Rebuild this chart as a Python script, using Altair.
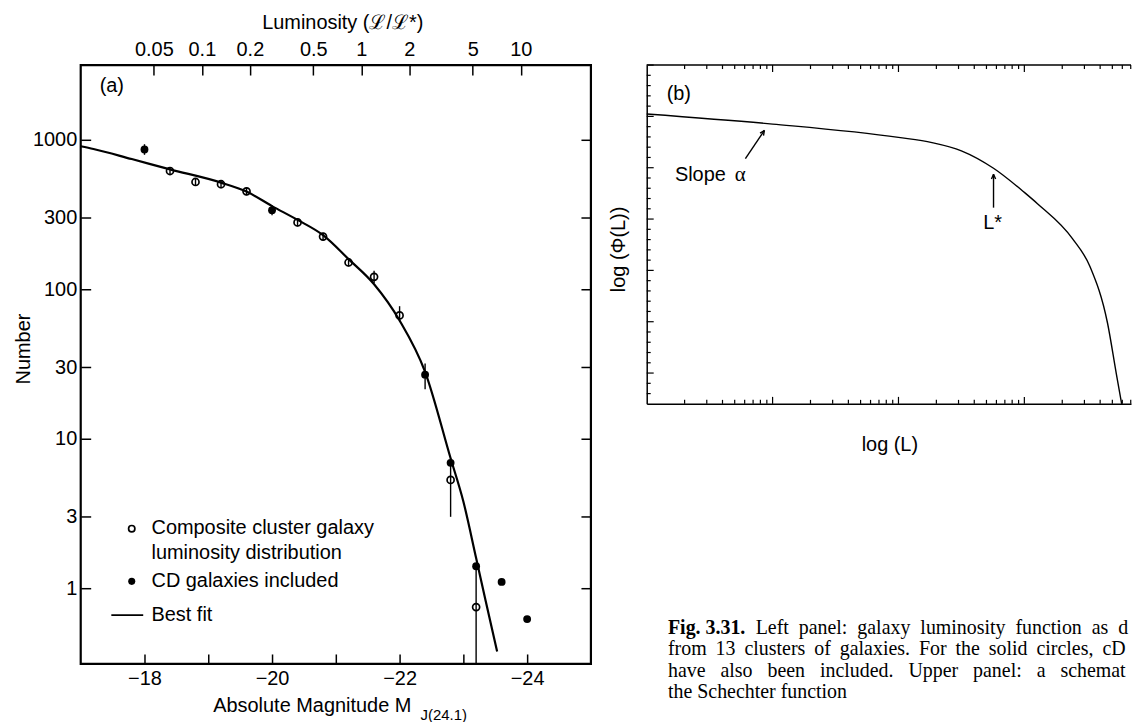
import altair as alt
import pandas as pd

# ---------------- panel (a): composite cluster galaxy luminosity function ----------------
open_M = [-18.4, -18.8, -19.2, -19.6, -20.4, -20.8, -21.2, -21.6, -22.0, -22.8, -23.2]
open_N = [618, 522, 504, 452, 280, 225, 151, 121, 66.8, 5.30, 0.747]

filled_M = [-18.0, -20.0, -22.4, -22.8, -23.2, -23.6, -24.0]
filled_N = [861, 338, 26.8, 6.89, 1.40, 1.10, 0.621]

err_M = [-18.0, -18.4, -18.8, -19.2, -19.6, -20.0, -20.4, -20.8, -21.2, -21.6, -22.0, -22.4, -22.8, -23.2]
err_lo = [793, 581, 491, 474, 425, 313, 263, 212, 142, 110, 61, 21.4, 3.0, 0.311]
err_hi = [934, 657, 555, 536, 480, 365, 298, 239, 161, 133, 77, 31.8, 7.4, 1.40]

fit_M = [-17.0, -17.2, -17.8, -18.4, -19.2, -19.6, -20.0, -20.4, -20.8, -21.2, -21.6,
         -22.0, -22.4, -22.8, -23.0, -23.2, -23.35, -23.53]
fit_N = [905, 868, 743, 634, 517, 450, 360, 291, 230, 159, 108,
         61.8, 28.0, 7.39, 3.80, 1.59, 0.819, 0.376]

legend_labels = ["Composite cluster galaxy", "luminosity distribution", "CD galaxies included", "Best fit"]
legend_label_M = [-18.11, -18.11, -18.11, -18.11]
legend_label_N = [2.51, 1.72, 1.11, 0.66]
legend_open_M, legend_open_N = [-17.8], [2.50]
legend_filled_M, legend_filled_N = [-17.8], [1.11]
legend_line_M, legend_line_N = [-17.48, -17.98], [0.66, 0.66]

mag_ticks = [-18, -19, -20, -21, -22, -23, -24]
num_ticks = [1, 3, 10, 30, 100, 300, 1000]
lum_ticks = [0.05, 0.1, 0.2, 0.5, 1, 2, 5, 10]

# ---------------- panel (b): schematic Schechter function ----------------
sch_L = [1, 10, 100, 184.5, 316, 569, 1000, 1271, 2410, 3327, 4581, 5383, 5929]
sch_y = [5.047, 4.85, 4.59, 4.49, 4.33, 3.99, 3.52, 3.30, 2.62, 2.07, 0.97, -0.02, -0.6]

rp_x_major = [10, 100, 1000]
rp_x_minor = [2, 3, 4, 5, 6, 7, 8, 9, 20, 30, 40, 50, 60, 70, 80, 90,
              200, 300, 400, 500, 600, 700, 800, 900, 2000, 3000, 4000, 5000, 6000, 7000]
rp_y_major = [0, 1, 2, 3, 4, 5, 6]
rp_y_minor = [-0.4, -0.2, 0.2, 0.4, 0.6, 0.8, 1.2, 1.4, 1.6, 1.8, 2.2, 2.4, 2.6, 2.8,
              3.2, 3.4, 3.6, 3.8, 4.2, 4.4, 4.6, 4.8, 5.2, 5.4, 5.6, 5.8]

slope_arrow = {"L": [6.08], "y": [4.179], "L2": [8.61], "y2": [4.726]}
lstar_arrow = {"L": [569], "y": [3.222], "L2": [569], "y2": [3.871]}

caption_first_bold = "Fig. 3.31."
caption_first_rest = ["Left", "panel:", "galaxy", "luminosity", "function", "as", "derived"]
caption_line2 = ["from", "13", "clusters", "of", "galaxies.", "For", "the", "solid", "circles,", "cD", "galaxies"]
caption_line3 = ["have", "also", "been", "included.", "Upper", "panel:", "a", "schematic", "of"]
caption_line4 = "the Schechter function"

SANS = "Liberation Sans"
SERIF = "Liberation Serif"
W1, H1 = 512, 601
W2, H2 = 486, 340


def label(text, x, y, size=20, font=SANS, align="left", angle=0, weight="normal", limit=0, baseline="middle"):
    kw = dict(font=font, fontSize=size, align=align, baseline=baseline, color="black", fontWeight=weight)
    if angle:
        kw["angle"] = angle
    if limit:
        kw["limit"] = limit
        kw["ellipsis"] = "\u200b"
    return alt.Chart(pd.DataFrame({"t": [text]})).mark_text(**kw).encode(
        text="t:N", x=alt.value(x), y=alt.value(y))


# ---- scales / encodings for panel (a)
M_scale = alt.Scale(domain=[-17, -25], nice=False, zero=False)
N_scale = alt.Scale(type="log", domain=[0.311, 3162], nice=False)

x_axis = alt.Axis(values=mag_ticks, tickSize=10, offset=-10, domain=False, grid=False,
                  labelExpr="datum.value % 2 == 0 ? '\u2212' + abs(datum.value) : ''",
                  labelFontSize=20, labelPadding=5, tickWidth=1.5, title=None, labelOverlap=False)
y_axis = alt.Axis(values=num_ticks, format="d", tickSize=10, offset=-10, domain=False, grid=False,
                  labelFontSize=20, labelPadding=4, tickWidth=1.5, title=None, labelOverlap=False)


def xm(field="M"):
    return alt.X(f"{field}:Q", scale=M_scale, axis=x_axis)


def yn(field="N"):
    return alt.Y(f"{field}:Q", scale=N_scale, axis=y_axis)


df_open = pd.DataFrame({"M": open_M, "N": open_N})
df_filled = pd.DataFrame({"M": filled_M, "N": filled_N})
df_err = pd.DataFrame({"M": err_M, "lo": err_lo, "hi": err_hi})
df_fit = pd.DataFrame({"M": fit_M, "N": fit_N})
df_leg_txt = pd.DataFrame({"M": legend_label_M, "N": legend_label_N, "t": legend_labels})

err = alt.Chart(df_err).mark_rule(color="black", strokeWidth=1.4).encode(
    x=xm(), y=yn("lo"), y2="hi:Q")
fit = alt.Chart(df_fit).mark_line(color="black", strokeWidth=2.2, interpolate="monotone").encode(
    x=xm(), y=yn())
opn = alt.Chart(df_open).mark_point(shape="circle", filled=False, size=50, strokeWidth=1.7,
                                    color="black", opacity=1).encode(x=xm(), y=yn())
fil = alt.Chart(df_filled).mark_circle(size=62, color="black", opacity=1).encode(x=xm(), y=yn())

leg_open = alt.Chart(pd.DataFrame({"M": legend_open_M, "N": legend_open_N})).mark_point(
    shape="circle", filled=False, size=40, strokeWidth=1.7, color="black", opacity=1).encode(x=xm(), y=yn())
leg_fill = alt.Chart(pd.DataFrame({"M": legend_filled_M, "N": legend_filled_N})).mark_circle(
    size=50, color="black", opacity=1).encode(x=xm(), y=yn())
leg_line = alt.Chart(pd.DataFrame({"M": legend_line_M, "N": legend_line_N})).mark_line(
    color="black", strokeWidth=1.8).encode(x=xm(), y=yn())
leg_txt = alt.Chart(df_leg_txt).mark_text(font=SANS, fontSize=20, align="left", baseline="middle",
                                          color="black").encode(x=xm(), y=yn(), text="t:N")

panel_a_main = alt.layer(
    err, fit, opn, fil, leg_open, leg_fill, leg_line, leg_txt,
    label("(a)", 19, 21),
    label("Number", -57, 285, align="center", angle=270),
    label("Luminosity (\u2112/\u2112*)", 263, -42, align="center"),
    label("Absolute Magnitude M", 133, 643),
    label("J(24.1)", 341, 652, size=15),
)

# second layer carrying the luminosity (top) axis and mirrored right ticks
top_layer = alt.Chart(pd.DataFrame({"L": lum_ticks, "N": [1] * len(lum_ticks)})).mark_point(opacity=0).encode(
    x=alt.X("L:Q", scale=alt.Scale(type="log", domain=[0.01738, 27.54], nice=False),
            axis=alt.Axis(orient="top", values=lum_ticks, format="~g", tickSize=10, offset=-10,
                          domain=False, grid=False, labelFontSize=20, labelPadding=6, tickWidth=1.5,
                          title=None, labelOverlap=False)),
    y=alt.Y("N:Q", scale=alt.Scale(type="log", domain=[0.311, 3162], nice=False),
            axis=alt.Axis(orient="right", values=num_ticks, tickSize=10, offset=-10, labels=False,
                          domain=False, grid=False, tickWidth=1.5, title=None)),
)

panel_a = alt.layer(panel_a_main, top_layer).resolve_scale(x="independent", y="independent").properties(
    width=W1, height=H1, view=alt.ViewBackground(stroke="black", strokeWidth=2.2, fill="white"))

# ---- panel (b)
L_scale = alt.Scale(type="log", domain=[1, 7035], nice=False)
Y_scale = alt.Scale(domain=[-0.6, 6.0], nice=False, zero=False)
bx = alt.Axis(labels=False, ticks=False, grid=False, domain=True, domainWidth=1.5, title=None)
by = alt.Axis(labels=False, ticks=False, grid=False, domain=True, domainWidth=1.5, title=None)


def xl(field="L"):
    return alt.X(f"{field}:Q", scale=L_scale, axis=bx)


def yl(field="y"):
    return alt.Y(f"{field}:Q", scale=Y_scale, axis=by)


sch = alt.Chart(pd.DataFrame({"L": sch_L, "y": sch_y})).mark_line(
    color="black", strokeWidth=1.4, interpolate="monotone").encode(x=xl(), y=yl())


def xticks(vals, length):
    d = pd.DataFrame({"L": vals})
    bot = alt.Chart(d).mark_rule(color="black", strokeWidth=1.2).encode(
        x=xl(), y=alt.value(H2), y2=alt.value(H2 - length))
    top = alt.Chart(d).mark_rule(color="black", strokeWidth=1.2).encode(
        x=xl(), y=alt.value(0), y2=alt.value(length))
    return [bot, top]


def yticks(vals, length):
    d = pd.DataFrame({"y": vals})
    return alt.Chart(d).mark_rule(color="black", strokeWidth=1.2).encode(
        y=yl(), x=alt.value(0), x2=alt.value(length))


top_line = alt.Chart(pd.DataFrame({"a": [0]})).mark_rule(color="black", strokeWidth=1.5).encode(
    x=alt.value(0), x2=alt.value(W2), y=alt.value(0))

ARROW_HEAD = "M0,0L-0.42,0.95M0,0L0.42,0.95"
arrows = []
for arr, ang in ((slope_arrow, 34), (lstar_arrow, 0)):
    d = pd.DataFrame(arr)
    arrows.append(alt.Chart(d).mark_rule(color="black", strokeWidth=1.4).encode(
        x=xl(), y=yl(), x2="L2:Q", y2="y2:Q"))
    arrows.append(alt.Chart(pd.DataFrame({"L": arr["L2"], "y": arr["y2"]})).mark_point(
        shape=ARROW_HEAD, filled=False, size=100, angle=ang, color="black", strokeWidth=1.4,
        opacity=1).encode(x=xl(), y=yl()))

slope_txt = alt.Chart(pd.DataFrame({"L": [1.675], "y": [3.851], "t": ["Slope"]})).mark_text(
    font=SANS, fontSize=20, align="left", baseline="middle", color="black").encode(
    x=xl(), y=yl(), text="t:N")
alpha_txt = alt.Chart(pd.DataFrame({"L": [5.0], "y": [3.851], "t": ["\u03b1"]})).mark_text(
    font=SERIF, fontSize=21, align="left", baseline="middle", color="black").encode(
    x=xl(), y=yl(), text="t:N")
lstar_txt = alt.Chart(pd.DataFrame({"L": [560], "y": [2.914], "t": ["L*"]})).mark_text(
    font=SANS, fontSize=20, align="center", baseline="middle", color="black").encode(
    x=xl(), y=yl(), text="t:N")

# caption (justified lines are widened with extra word spaces, cut at the page edge)
CX = 21.3
cap1 = "\u2002".join(caption_first_rest)
cap2 = " \u2009".join(caption_line2)
cap3 = " \u2002".join(caption_line3)

panel_b = alt.layer(
    sch, *xticks(rp_x_major, 7), *xticks(rp_x_minor, 4), yticks(rp_y_major, 7), yticks(rp_y_minor, 4),
    top_line, *arrows, slope_txt, alpha_txt, lstar_txt,
    label("(b)", 20, 29),
    label("log (\u03a6(L))", -28, 185, align="center", angle=270),
    label("log (L)", 244, 381.5, align="center"),
    label(caption_first_bold, CX, 565, size=20, font=SERIF, weight="bold"),
    label(cap1, CX + 88, 565, size=20, font=SERIF, limit=W2 - CX - 88),
    label(cap2, CX, 586.5, size=20, font=SERIF, limit=W2 - CX),
    label(cap3, CX, 608, size=20, font=SERIF, limit=W2 - CX),
    label(caption_line4, CX, 629.5, size=20, font=SERIF),
).properties(width=W2, height=H2, view=alt.ViewBackground(stroke="transparent", fill="white"))

chart = alt.hconcat(panel_a, panel_b, spacing=56, bounds="flush").properties(
    padding={"left": 12, "top": 10, "right": 0, "bottom": 0}
).configure(background="white").configure_axis(
    labelFont=SANS, labelColor="black", tickColor="black", domainColor="black"
)

chart.save("out.html", embed_options={"renderer": "svg", "actions": False})
